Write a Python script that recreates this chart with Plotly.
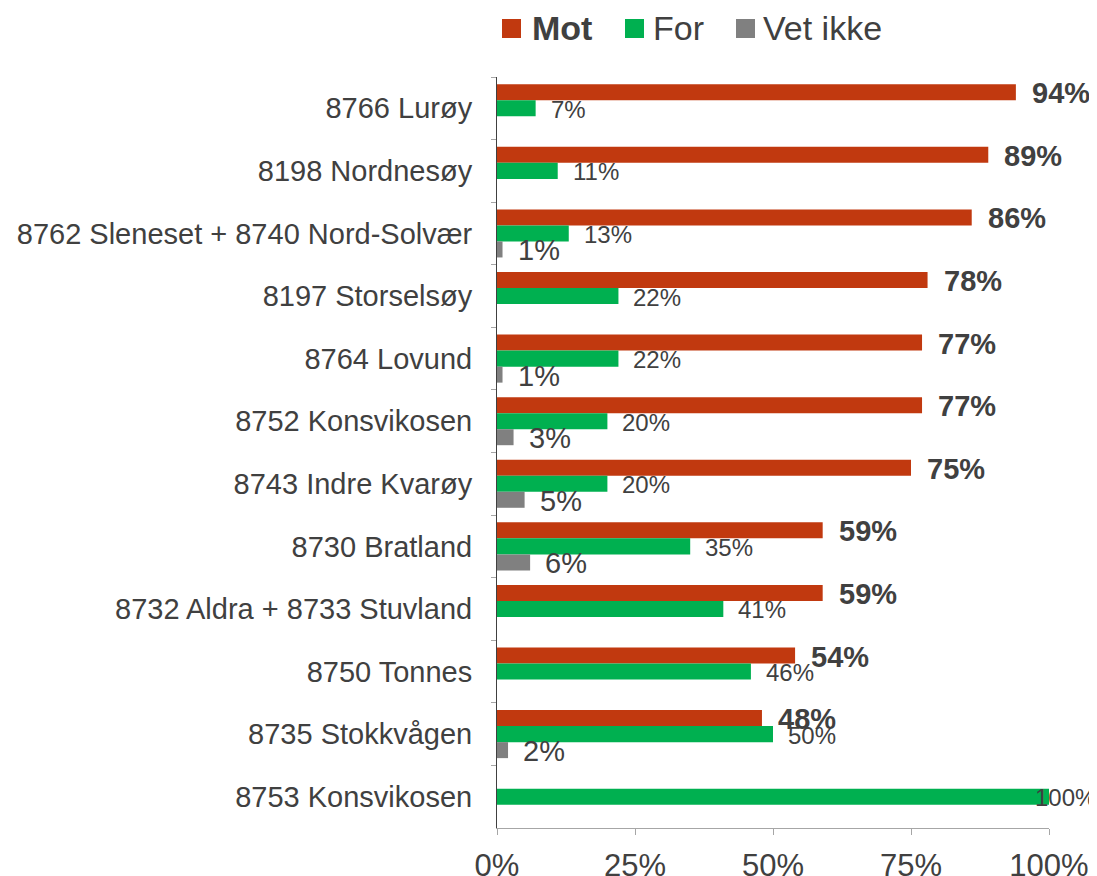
import plotly.graph_objects as go

categories = ["8766 Lurøy", "8198 Nordnesøy", "8762 Sleneset + 8740 Nord-Solvær",
              "8197 Storselsøy", "8764 Lovund", "8752 Konsvikosen", "8743 Indre Kvarøy",
              "8730 Bratland", "8732 Aldra + 8733 Stuvland", "8750 Tonnes",
              "8735 Stokkvågen", "8753 Konsvikosen"]
mot = [94, 89, 86, 78, 77, 77, 75, 59, 59, 54, 48, None]
for_ = [7, 11, 13, 22, 22, 20, 20, 35, 41, 46, 50, 100]
vet_ikke = [None, None, 1, None, 1, 3, 5, 6, None, None, 2, None]

series_names = ["Mot", "For", "Vet ikke"]
series_values = [mot, for_, vet_ikke]
colors = ["#C1390F", "#00B050", "#808080"]
label_sizes = [29, 24, 29]
label_bold = [True, False, False]
label_yshift = [16, 0, -16]
label_xshift = [14, 13, 13]

FONT = "Liberation Sans, Arial, sans-serif"
TXT = "#404040"

# page body has an 8px margin; the figure is sized so the plot lands where the reference has it
OFF = 8
FIG_W, FIG_H = 1097 - OFF, 876 - OFF
PLOT_L, PLOT_R, PLOT_T, PLOT_B = 497 - OFF, 1049 - OFF, 77 - OFF, 828 - OFF
W, H = PLOT_R - PLOT_L, PLOT_B - PLOT_T

fig = go.Figure()
for name, vals, col in zip(series_names, series_values, colors):
    fig.add_trace(go.Bar(
        y=categories, x=vals, name=name, orientation="h",
        marker=dict(color=col, line=dict(width=0)),
        showlegend=False,
    ))

annotations = []
for vals, size, bold, ys, xs in zip(series_values, label_sizes, label_bold, label_yshift, label_xshift):
    for cat, v in zip(categories, vals):
        if v is None:
            continue
        txt = f"{v}%"
        if bold:
            txt = f"<b>{txt}</b>"
        annotations.append(dict(
            x=v, y=cat, xref="x", yref="y", text=txt, showarrow=False,
            xanchor="left", yanchor="middle",
            xshift=(xs if v < 100 else -16), yshift=ys - 1,
            font=dict(family=FONT, size=size, color=TXT),
        ))


def px_x(p):
    return (p - OFF - PLOT_L) / W


def px_y(p):
    return (PLOT_B - (p - OFF)) / H


# Manual legend (swatches + labels), positions given in screen pixels of the reference
legend_items = [(502, 533), (625, 654), (736, 764)]
shapes = []
for (sx, tx), name, col in zip(legend_items, series_names, colors):
    shapes.append(dict(type="rect", xref="paper", yref="paper",
                       x0=px_x(sx), x1=px_x(sx + 19), y0=px_y(38), y1=px_y(19),
                       fillcolor=col, line=dict(width=0)))
    label = f"<b>{name}</b>" if name == "Mot" else name
    annotations.append(dict(x=px_x(tx - 3), y=px_y(28), xref="paper", yref="paper",
                            text=label, showarrow=False, xanchor="left", yanchor="middle",
                            font=dict(family=FONT, size=34, color=TXT)))

fig.update_layout(
    width=FIG_W, height=FIG_H,
    margin=dict(l=PLOT_L, r=FIG_W - PLOT_R, t=PLOT_T, b=FIG_H - PLOT_B, autoexpand=False),
    paper_bgcolor="white", plot_bgcolor="white",
    barmode="group", bargap=0.233, bargroupgap=0,
    font=dict(family=FONT, color=TXT),
    annotations=annotations, shapes=shapes,
    xaxis=dict(range=[0, 100], tickvals=[0, 25, 50, 75, 100],
               ticktext=["0%", "25%", "50%", "75%", "100%"],
               showgrid=False, zeroline=False, showline=True, linecolor="#A6A6A6", linewidth=1,
               ticks="outside", ticklen=6, tickcolor="#A6A6A6",
               tickfont=dict(family=FONT, size=31, color=TXT), ticklabelstandoff=4),
    yaxis=dict(type="category", autorange="reversed", showgrid=False, zeroline=False,
               showline=True, linecolor="#404040", linewidth=1,
               ticks="outside", ticklen=5, tickcolor="#A6A6A6", tickson="boundaries",
               tickfont=dict(family=FONT, size=29, color=TXT), ticklabelstandoff=18),
)

fig.write_html("out.html")
